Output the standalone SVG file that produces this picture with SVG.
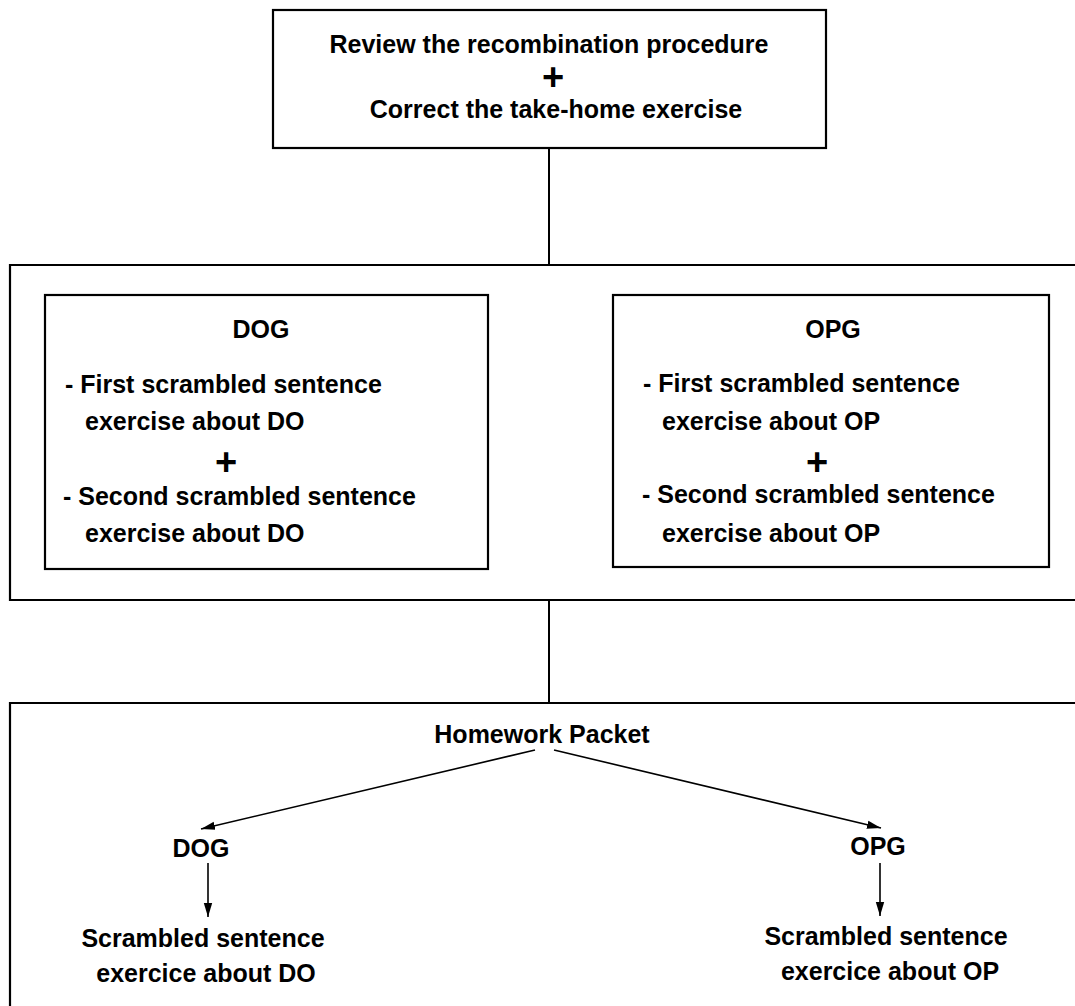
<svg xmlns="http://www.w3.org/2000/svg" width="1075" height="1006" viewBox="0 0 1075 1006">
  <style>
    .box { fill: none; stroke: #000; stroke-width: 2.2; }
    .wire { fill: none; stroke: #000; stroke-width: 2; }
    .arrow { fill: none; stroke: #000; stroke-width: 1.6; }
    text { font-family: "Liberation Sans", Arial, Helvetica, sans-serif; font-weight: bold; font-size: 25px; fill: #000; }
    .c { text-anchor: middle; }
    .plus { font-size: 38px; text-anchor: middle; }
  </style>
  <defs>
    <marker id="head" markerUnits="userSpaceOnUse" markerWidth="16" markerHeight="10" refX="14" refY="5" orient="auto">
      <path d="M0,0.8 L14,5 L0,9.2 Z" fill="#000"/>
    </marker>
  </defs>

  <rect width="1075" height="1006" fill="#fff"/>

  <!-- connectors -->
  <g id="connectors">
    <line class="wire" x1="549" y1="148" x2="549" y2="265"/>
    <line class="wire" x1="549" y1="600" x2="549" y2="703"/>
    <line class="arrow" x1="535" y1="750" x2="201" y2="829" marker-end="url(#head)"/>
    <line class="arrow" x1="554" y1="750" x2="881" y2="828" marker-end="url(#head)"/>
    <line class="arrow" x1="208" y1="863" x2="208" y2="917" marker-end="url(#head)"/>
    <line class="arrow" x1="880" y1="863" x2="880" y2="916" marker-end="url(#head)"/>
  </g>

  <!-- review step -->
  <g id="review">
    <rect class="box" x="273" y="10" width="553" height="138"/>
    <text class="c" x="549" y="53">Review the recombination procedure</text>
    <text class="plus" x="553" y="90">+</text>
    <text class="c" x="556" y="118">Correct the take-home exercise</text>
  </g>

  <!-- in-class exercises -->
  <g id="exercises">
    <path class="box" d="M1080,265 H10 V600 H1080"/>
  </g>

  <g id="dog-exercises">
    <rect class="box" x="45" y="295" width="443" height="274"/>
    <text class="c" x="261" y="338">DOG</text>
    <text x="65" y="393">- First scrambled sentence</text>
    <text x="85" y="430">exercise about DO</text>
    <text class="plus" x="226" y="475">+</text>
    <text x="63" y="505">- Second scrambled sentence</text>
    <text x="85" y="542">exercise about DO</text>
  </g>

  <g id="opg-exercises">
    <rect class="box" x="613" y="295" width="436" height="272"/>
    <text class="c" x="833" y="338">OPG</text>
    <text x="643" y="392">- First scrambled sentence</text>
    <text x="662" y="430">exercise about OP</text>
    <text class="plus" x="817" y="475">+</text>
    <text x="642" y="503">- Second scrambled sentence</text>
    <text x="662" y="542">exercise about OP</text>
  </g>

  <!-- homework -->
  <g id="homework">
    <path class="box" d="M1080,703 H10 V1010"/>
    <text class="c" x="542" y="743">Homework Packet</text>
  </g>

  <g id="dog-homework">
    <text class="c" x="201" y="857">DOG</text>
    <text class="c" x="203" y="947">Scrambled sentence</text>
    <text class="c" x="206" y="982">exercice about DO</text>
  </g>

  <g id="opg-homework">
    <text class="c" x="878" y="855">OPG</text>
    <text class="c" x="886" y="945">Scrambled sentence</text>
    <text class="c" x="890" y="980">exercice about OP</text>
  </g>
</svg>
